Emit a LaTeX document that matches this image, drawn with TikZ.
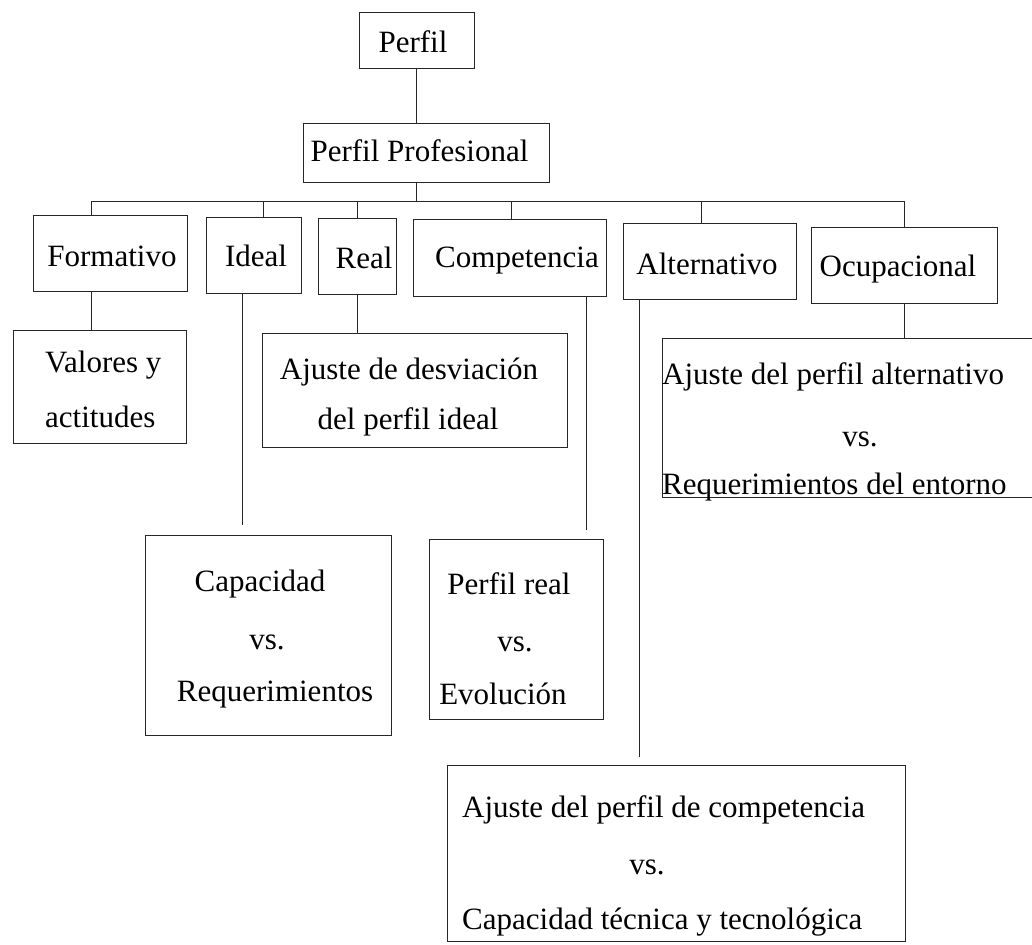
\documentclass[tikz,border=0pt]{standalone}
\usepackage{fontspec}
\setmainfont{Liberation Serif}
\usetikzlibrary{fit}
\tikzset{
  bx/.style={draw=black!85, line width=0.9pt, inner sep=0pt, rectangle},
  tx/.style={inner sep=0pt, font=\fontsize{31}{37}\selectfont, text height=0.68em, text depth=0.2em, yshift=-7pt},
  ln/.style={draw=black!85, line width=0.8pt},
}
\begin{document}
\begin{tikzpicture}[x=1pt,y=-1pt]
\useasboundingbox[fill=white] (0,0) rectangle (1032,944);
% boxes
\node[bx, fit={(359,12) (474,68)}] (perfil) {};
\node[bx, fit={(303,123) (549,182)}] (pp) {};
\node[bx, fit={(33,215) (187,291)}] (form) {};
\node[bx, fit={(206,217) (301,293)}] (ideal) {};
\node[bx, fit={(318,218) (396,294)}] (real) {};
\node[bx, fit={(413,219) (606,296)}] (comp) {};
\node[bx, fit={(623,223) (796,299)}] (alt) {};
\node[bx, fit={(811,227) (997,303)}] (ocup) {};
\node[bx, fit={(13,330) (186,443)}] (val) {};
\node[bx, fit={(262,333) (567,447)}] (desv) {};
\node[bx, fit={(662,338) (1045,497)}] (ocd) {};
\node[bx, fit={(145,535) (391,735)}] (cap) {};
\node[bx, fit={(429,539) (603,719)}] (preal) {};
\node[bx, fit={(447,765) (905,941)}] (bot) {};
% texts
\node[tx] (tperfil) at (413,43) {Perfil};
\node[tx] (tpp) at (419.5,152) {Perfil Profesional};
\node[tx] (tform) at (112,257) {Formativo};
\node[tx] (tideal) at (256,257) {Ideal};
\node[tx] (treal) at (364,259) {Real};
\node[tx] (tcomp) at (517,258) {Competencia};
\node[tx] (talt) at (707,265) {Alternativo};
\node[tx] (tocup) at (898,267) {Ocupacional};
\node[tx, anchor=west] (tval1) at (45,363) {Valores y};
\node[tx, anchor=west] (tval2) at (45,418) {actitudes};
\node[tx] (tdesv1) at (409,370) {Ajuste de desviación};
\node[tx] (tdesv2) at (408,420) {del perfil ideal};
\node[tx, anchor=west] (tocd1) at (662,375) {Ajuste del perfil alternativo};
\node[tx] (tocd2) at (860,437) {vs.};
\node[tx, anchor=west] (tocd3) at (662,485) {Requerimientos del entorno};
\node[tx] (tcap1) at (260,582) {Capacidad};
\node[tx] (tcap2) at (267,640) {vs.};
\node[tx] (tcap3) at (275,692) {Requerimientos};
\node[tx] (tpr1) at (509,585) {Perfil real};
\node[tx] (tpr2) at (515,642) {vs.};
\node[tx] (tpr3) at (503,695) {Evolución};
\node[tx, anchor=west] (tbot1) at (462,808) {Ajuste del perfil de competencia};
\node[tx] (tbot2) at (647,865) {vs.};
\node[tx, anchor=west] (tbot3) at (462,920) {Capacidad técnica y tecnológica};
% bus coordinates
\coordinate (busL) at (91,201);
\coordinate (busR) at (904,201);
\coordinate (jP) at (416,201);
\coordinate (jI) at (263,201);
\coordinate (jC) at (511,201);
\coordinate (jA) at (701,201);
\coordinate (dI) at (242,525);
\coordinate (dC) at (586,530);
\coordinate (dA) at (639,757);
% connectors
\draw[ln] (jP |- perfil.south) -- (jP |- pp.north);
\draw[ln] (jP |- pp.south) -- (jP);
\draw[ln] (busL) -- (busR);
\draw[ln] (busL) -- (busL |- form.north);
\draw[ln] (jI) -- (jI |- ideal.north);
\draw[ln] (real.north |- busL) -- (real.north);
\draw[ln] (jC) -- (jC |- comp.north);
\draw[ln] (jA) -- (jA |- alt.north);
\draw[ln] (busR) -- (busR |- ocup.north);
\draw[ln] (busL |- form.south) -- (busL |- val.north);
\draw[ln] (dI |- ideal.south) -- (dI);
\draw[ln] (real.south) -- (real.south |- desv.north);
\draw[ln] (dC |- comp.south) -- (dC);
\draw[ln] (dA |- alt.south) -- (dA);
\draw[ln] (ocup.south) -- (ocup.south |- ocd.north);
\end{tikzpicture}
\end{document}
